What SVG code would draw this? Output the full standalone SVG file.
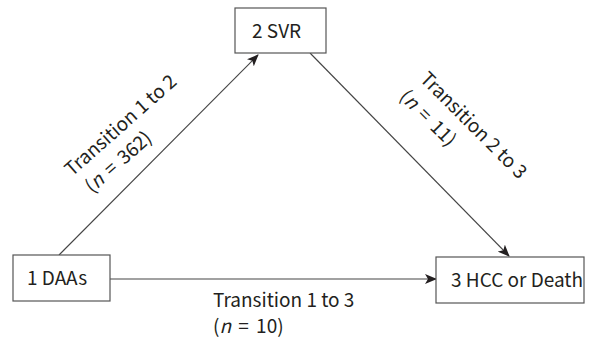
<svg xmlns="http://www.w3.org/2000/svg" width="594" height="347" viewBox="0 0 594 347">
<style>
.box{fill:#fff;stroke:#555;stroke-width:1.2}
.t{font-family:"Noto Sans CJK JP","Noto Sans",sans-serif;font-size:19px;fill:#231f20}
.n{word-spacing:3px}
.edge{stroke:#444;stroke-width:1.1;fill:none}
</style>
<defs>
<marker id="ah" viewBox="0 0 12 10" refX="11" refY="5" markerWidth="12" markerHeight="10" markerUnits="userSpaceOnUse" orient="auto">
<path d="M0,0 L12,5 L0,10 L3,5 Z" fill="#231f20"/>
</marker>
</defs>
<rect width="594" height="347" fill="#fff"/>
<g id="connectors">
<line class="edge" x1="59" y1="255" x2="258" y2="55" marker-end="url(#ah)"/>
<line class="edge" x1="310" y1="53" x2="509" y2="256" marker-end="url(#ah)"/>
<line class="edge" x1="110" y1="279" x2="436" y2="279" marker-end="url(#ah)"/>
<text class="t" transform="translate(72,177) rotate(-41.5)"><tspan x="0" y="0">Transition 1 to 2</tspan><tspan class="n" x="4" y="26">(<tspan font-style="italic">n</tspan> = 362)</tspan></text>
<text class="t" transform="translate(419,80) rotate(45)"><tspan x="0" y="0">Transition 2 to 3</tspan><tspan class="n" x="-2" y="27">(<tspan font-style="italic">n</tspan> = 11)</tspan></text>
<text class="t" x="213" y="307">Transition 1 to 3</text>
<text class="t n" x="213" y="333">(<tspan font-style="italic">n</tspan> = 10)</text>
</g>
<g id="node1">
<rect class="box" x="13" y="255" width="97" height="46"/>
<text class="t" x="27" y="285">1 DAAs</text>
</g>
<g id="node2">
<rect class="box" x="235" y="8" width="91" height="45"/>
<text class="t" x="252" y="38">2 SVR</text>
</g>
<g id="node3">
<rect class="box" x="436" y="257" width="148" height="46"/>
<text class="t" x="451" y="287">3 HCC or Death</text>
</g>
</svg>
